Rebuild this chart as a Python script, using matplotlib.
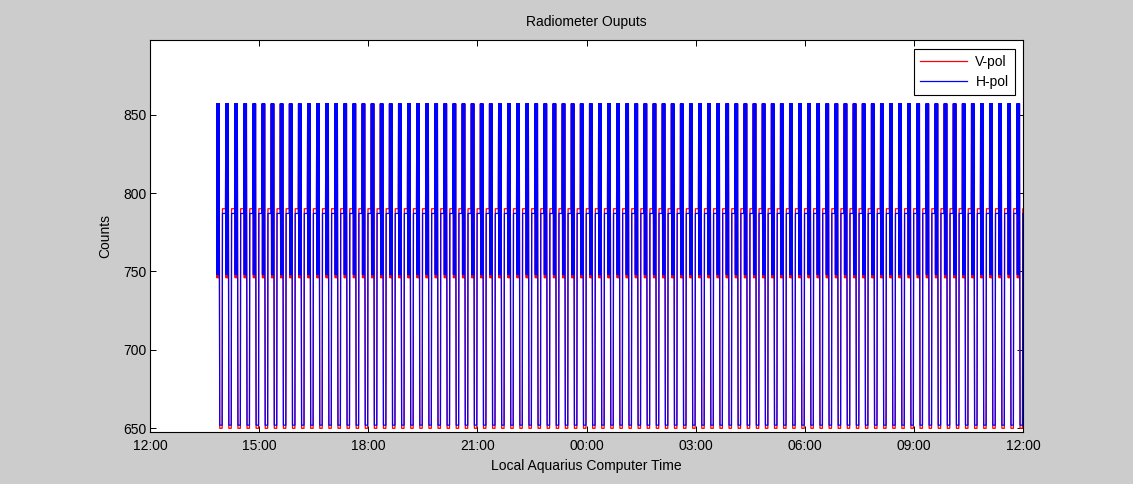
import numpy as np
import matplotlib
matplotlib.use("Agg")
import matplotlib.pyplot as plt

plt.rcParams['font.family'] = ['Liberation Sans', 'DejaVu Sans']

# --- radiometer calibration cycle -------------------------------------------
START_HOUR = 13 + 50 / 60          # first sample, local time (hours since 00:00 day 1)
END_HOUR = 36.05                   # last sample (12:00 next day)
CYCLE_MIN = 15                     # one calibration cycle
SAMPLE_MIN = 0.5                   # sample interval

# one entry per 30-s sample: noise-diode burst (hot/mid alternating),
# cold load, then reference load
CYCLE_STATES = ['h', 'm'] * 5 + ['c'] * 9 + ['r'] * 11

V_LEVELS = {'h': 857, 'm': 746, 'r': 790, 'c': 650}
H_LEVELS = {'h': 857, 'm': 748, 'r': 787, 'c': 652}

SERIES_NAMES = ['V-pol', 'H-pol']
SERIES_COLORS = ['#ff0000', '#0000ff']

X_TICKS = [12, 15, 18, 21, 24, 27, 30, 33, 36]
X_TICK_LABELS = ['12:00', '15:00', '18:00', '21:00', '00:00',
                 '03:00', '06:00', '09:00', '12:00']
Y_TICKS = [650, 700, 750, 800, 850]

# --- build the sample series -------------------------------------------------
n_cycles = int(np.ceil((END_HOUR - START_HOUR) * 60 / CYCLE_MIN))
states = CYCLE_STATES * n_cycles
t = START_HOUR + np.arange(len(states)) * SAMPLE_MIN / 60
keep = t <= END_HOUR
t = t[keep]
v = np.array([V_LEVELS[s] for s in states])[keep]
h = np.array([H_LEVELS[s] for s in states])[keep]

# --- figure ------------------------------------------------------------------
fig = plt.figure(figsize=(11.33, 4.84), dpi=100, facecolor='#cccccc')
ax = fig.add_axes([0.1324, 0.107, 0.7706, 0.810])
ax.set_facecolor('white')

ax.plot(t, v, color=SERIES_COLORS[0], lw=0.9, label=SERIES_NAMES[0])
ax.plot(t, h, color=SERIES_COLORS[1], lw=0.9, label=SERIES_NAMES[1])

ax.set_xlim(12, 36)
ax.set_ylim(647.5, 897.5)
ax.set_xticks(X_TICKS)
ax.set_xticklabels(X_TICK_LABELS)
ax.set_yticks(Y_TICKS)

fs = 10
ax.tick_params(direction='in', top=True, right=True, length=4, width=0.7,
               labelsize=fs, colors='black')
ax.tick_params(axis='x', pad=5)
ax.tick_params(axis='y', pad=2.5)
for sp in ax.spines.values():
    sp.set_linewidth(0.8)
    sp.set_color('black')

ax.set_title('Radiometer Ouputs', fontsize=fs, pad=10)
ax.set_xlabel('Local Aquarius Computer Time', fontsize=fs, labelpad=4)
ax.set_ylabel('Counts', fontsize=fs, labelpad=8)

leg = ax.legend(loc='upper right', fontsize=fs, fancybox=False,
                edgecolor='black', framealpha=1, borderaxespad=0.6,
                handlelength=3.4, handletextpad=0.6, labelspacing=0.45,
                borderpad=0.45)
leg.get_frame().set_linewidth(0.8)

fig.savefig('out.png', dpi=100, facecolor=fig.get_facecolor())
